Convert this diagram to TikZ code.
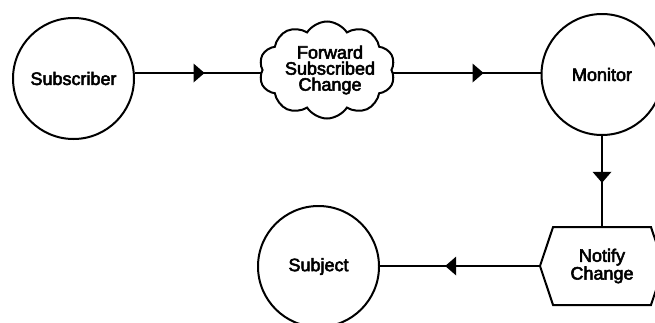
\documentclass[tikz,border=0pt]{standalone}
\usepackage{fontspec}
\newfontfamily\labfont{Liberation Sans}[FakeBold=3]
\usetikzlibrary{shapes.symbols,decorations.markings}

\begin{document}
\begin{tikzpicture}[x=1pt,y=-1pt,
  line width=2pt,
  every node/.style={font=\labfont\fontsize{18}{16}\selectfont, align=center},
  proc/.style={circle, draw, minimum size=121pt, inner sep=0pt},
  cloudbox/.style={cloud, draw, cloud puffs=10, cloud puff arc=115,
    cloud ignores aspect, minimum width=136pt, minimum height=97pt, inner sep=0pt},
  hexbox/.style={signal, draw, signal to=west and east, signal pointer angle=143,
    minimum width=124pt, minimum height=78pt, inner sep=0pt},
  flow/.style={draw, postaction=decorate, decoration={markings,
    mark=at position #1 with {\fill (-11pt,-9.5pt) -- (0pt,0pt) -- (-11pt,9.5pt) -- cycle;}}},
]
\useasboundingbox (0,0) rectangle (655,322);
\clip (0,0) rectangle (655,322);

% processes and stores
\node[proc] (sub) at (73.5,78.5) {Subscriber};
\node[cloudbox] (fwd) at (327,70) {};
\node (fwdtxt) at (330,70) {\fontsize{18}{15}\selectfont Forward\\Subscribed\\Change};
\node[proc] (mon) at (602,74.5) {Monitor};
\node[hexbox] (ntf) at (602,266) {Notify\\Change};
\node[proc] (subj) at (318.5,266.5) {Subject};

% flows
\coordinate (row) at (0,73);
\draw[flow=0.55] (sub.east |- row) -- (fwd.west |- row);
\draw[flow=0.615] (fwd.east |- row) -- (mon.west |- row);
\draw[flow=0.52] (mon.south) -- (ntf.north);
\draw[flow=0.59] (ntf.west) -- (subj.east |- ntf.west);
\end{tikzpicture}
\end{document}
